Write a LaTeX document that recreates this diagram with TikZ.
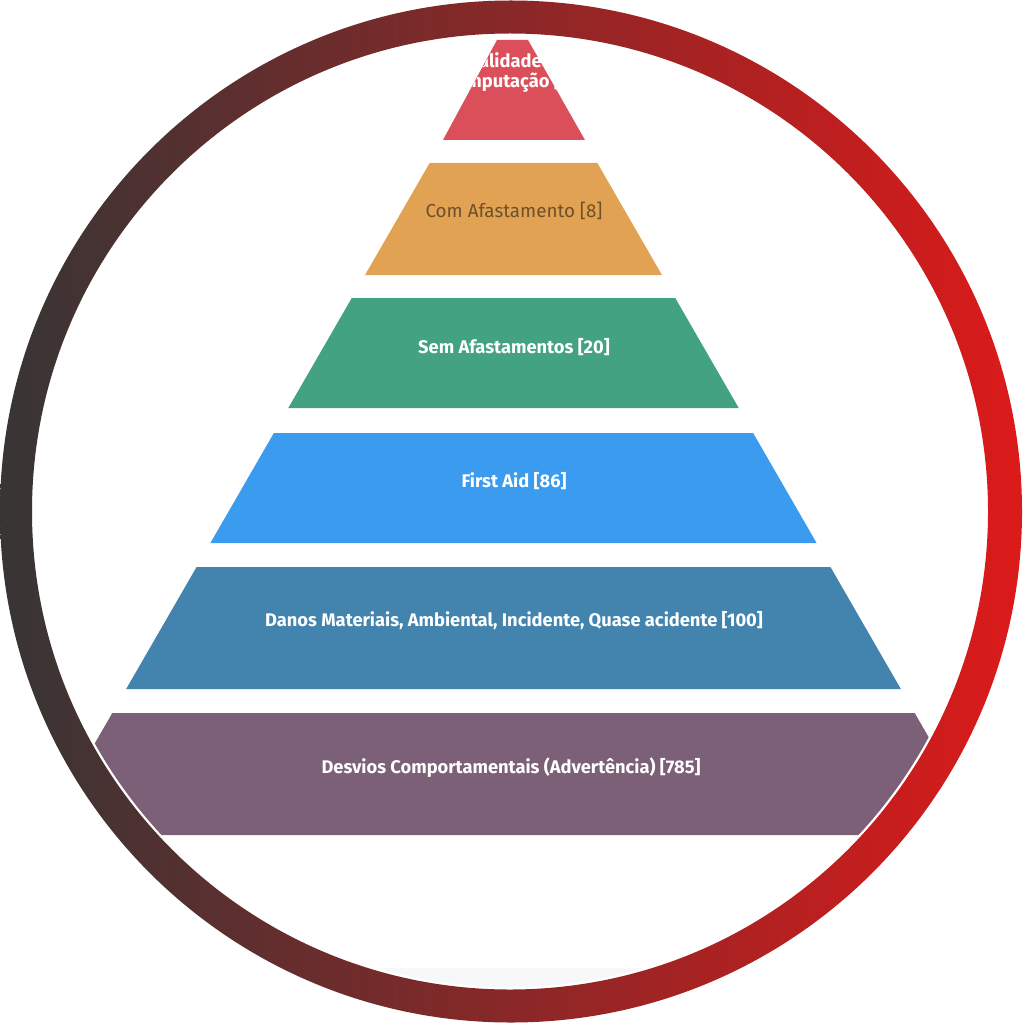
\documentclass[tikz,border=0pt]{standalone}
\usepackage{fontspec}
\setmainfont{Fira Sans}
\newfontfamily\labfont{Fira Sans}
\definecolor{ringL}{HTML}{373535}
\definecolor{ringR}{HTML}{DC1A1A}
\definecolor{lvA}{HTML}{DB4F5B}
\definecolor{lvB}{HTML}{E2A254}
\definecolor{lvC}{HTML}{43A282}
\definecolor{lvD}{HTML}{3B9BEF}
\definecolor{lvE}{HTML}{4284AE}
\definecolor{lvF}{HTML}{7B6077}
\definecolor{txtB}{HTML}{6E5028}
\definecolor{band}{HTML}{F7F8FA}
\newcommand{\pyrstrip}[2]{%
  ({513.5-0.577*(#1-17.7)},#1) -- ({513.5+0.577*(#1-17.7)},#1) -- ({513.5+0.577*(#2-17.7)},#2) -- ({513.5-0.577*(#2-17.7)},#2) -- cycle}
\newcommand{\topstrip}{(497,40) -- (528,40) -- (585,140) -- (443,140) -- cycle}
\tikzset{
  lab/.style={anchor=base, font=\labfont\fontsize{18.3}{20}\selectfont\bfseries, text=white, inner sep=0pt},
  labdark/.style={lab, font=\labfont\fontsize{18.8}{20}\selectfont, text=txtB},
}
\begin{document}
\begin{tikzpicture}[x=1pt,y=-1pt]
\useasboundingbox (0,0) rectangle (1024,1024);
\fill[white] (0,0) rectangle (1024,1024);
\begin{scope}
  \clip (510,511.5) circle (475.5pt);
  \fill[band] (0,968) rectangle (1024,1024);
  \fill[lvA] \topstrip;
  \fill[lvB] \pyrstrip{163}{275};
  \fill[lvC] \pyrstrip{298}{408};
  \fill[lvD] \pyrstrip{433}{543};
  \fill[lvE] \pyrstrip{567}{689};
  \fill[lvF] \pyrstrip{713}{835};
  \begin{scope}
    \clip \topstrip;
    \node[lab] (t1a) at (505,68) {Fatalidade /};
    \node[lab] (t1b) at (516,88) {Amputação [0]};
  \end{scope}
\end{scope}
\shade[left color=ringL, right color=ringR, even odd rule]
  (511,511.5) circle (511pt) (510,511.5) circle (478pt);
\node[labdark] (t2) at (514,218) {Com Afastamento [8]};
\node[lab] (t3) at (514,353) {Sem Afastamentos [20]};
\node[lab] (t4) at (514,487) {First Aid [86]};
\node[lab] (t5) at (514,626) {Danos Materiais, Ambiental, Incidente, Quase acidente [100]};
\node[lab] (t6) at (511,773) {Desvios Comportamentais (Advertência) [785]};
\end{tikzpicture}
\end{document}
